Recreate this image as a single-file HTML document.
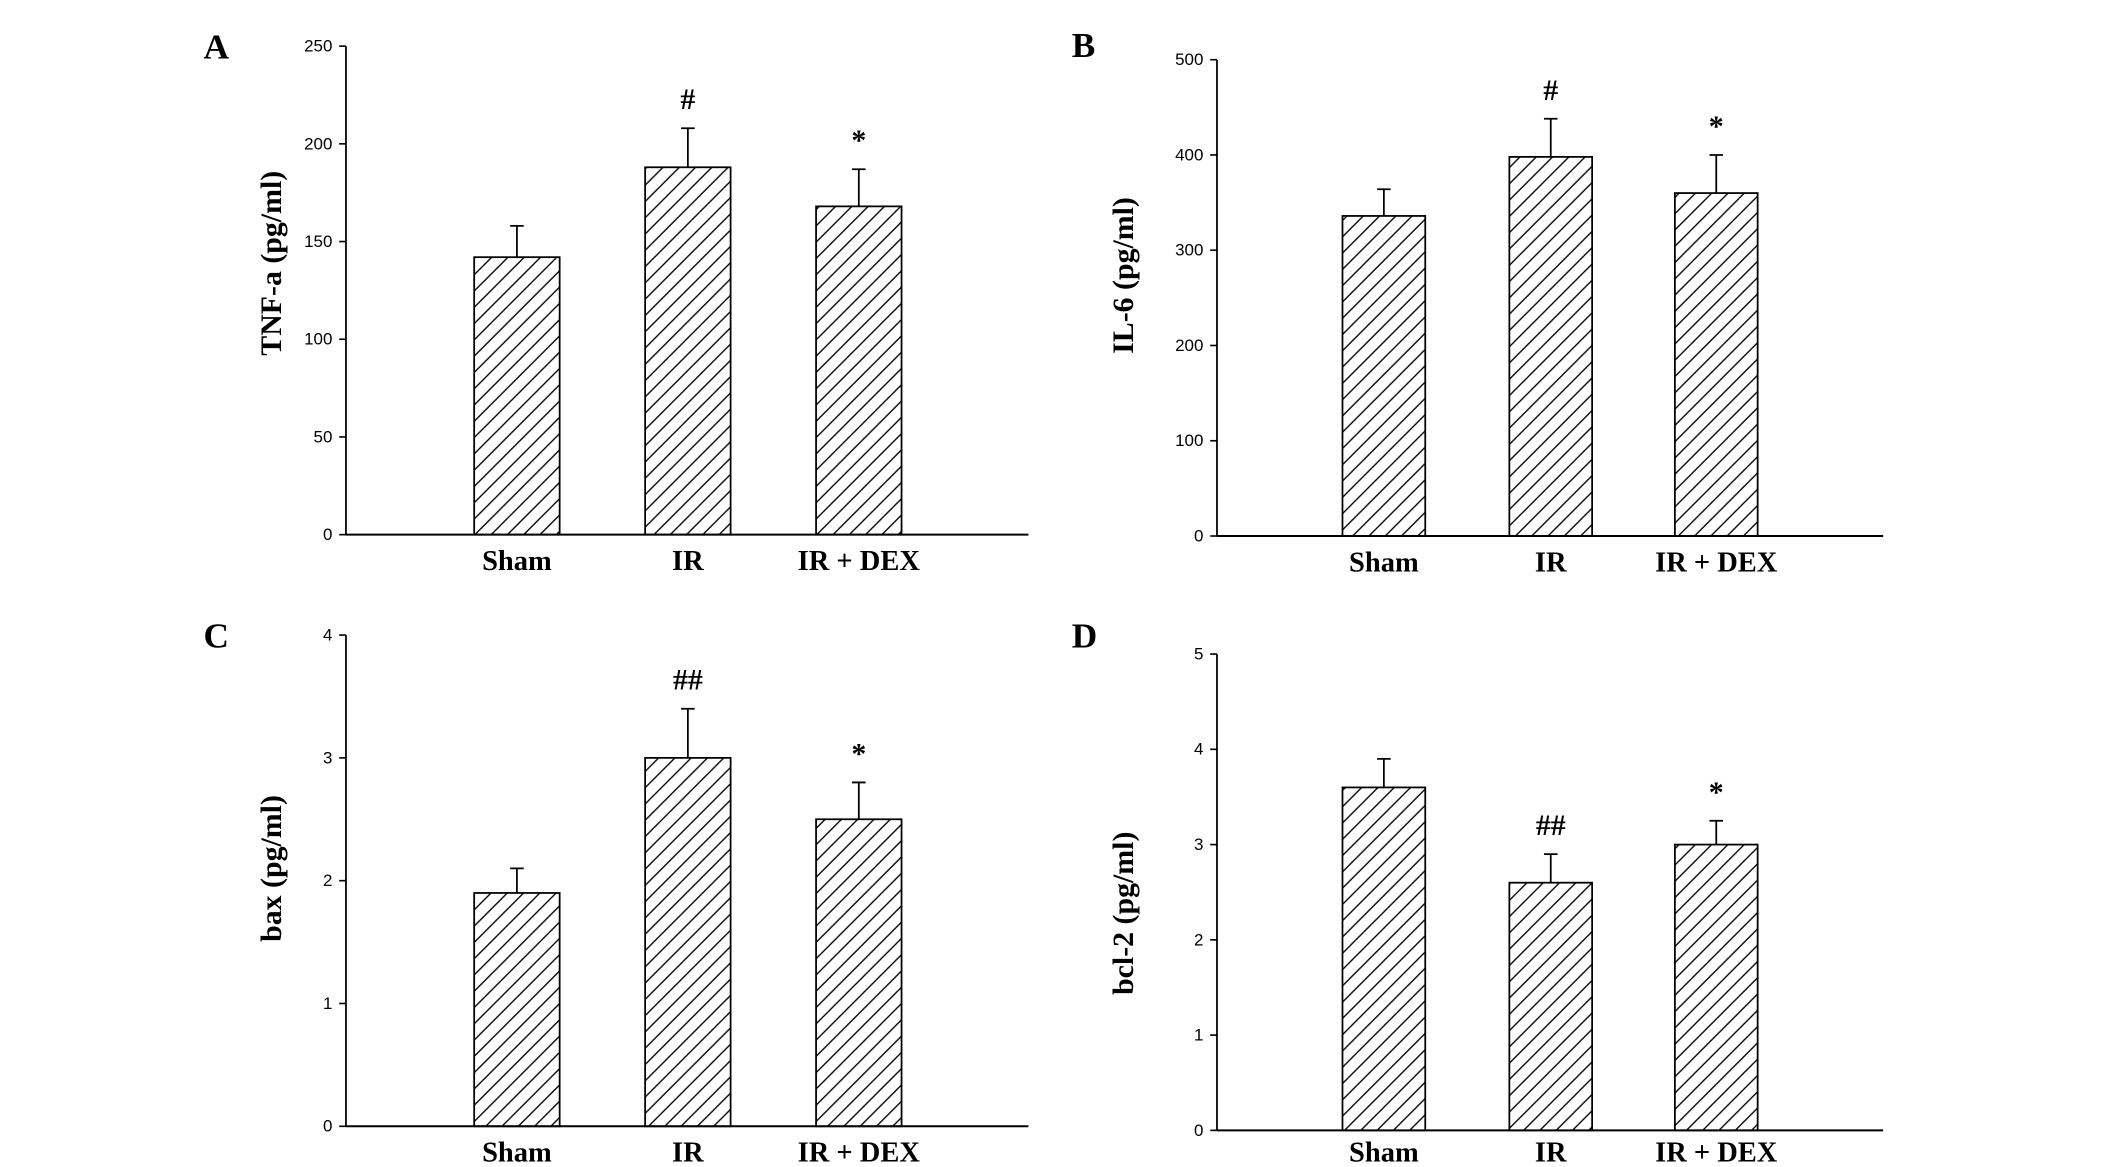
<!DOCTYPE html>
<html><head><meta charset="utf-8"><style>
html,body{margin:0;padding:0;background:#fff;}
svg{display:block;}
.tick{font-family:"Liberation Sans",Arial,sans-serif;font-size:12.5px;fill:#000;}
.cat{font-family:"Liberation Serif",serif;font-weight:bold;font-size:21px;fill:#000;}
.yt{font-family:"Liberation Serif",serif;font-weight:bold;font-size:22px;fill:#000;}
.pl{font-family:"Liberation Serif",serif;font-weight:bold;font-size:26px;fill:#000;}
.sig{font-family:"Liberation Serif",serif;font-weight:bold;font-size:22px;fill:#000;}
</style></head><body>
<svg id="fig" width="2126" height="1167" viewBox="0 0 1567 860" preserveAspectRatio="none" xmlns="http://www.w3.org/2000/svg">
<defs>
<pattern id="hatch" patternUnits="userSpaceOnUse" width="12" height="12">
<path d="M-3,3 L3,-3 M0,12 L12,0 M9,15 L15,9" stroke="#000" stroke-width="1"/>
</pattern>
</defs>
</svg>
<script>
const categories = ["Sham", "IR", "IR + DEX"];
const tnfValues = [142, 188, 168];
const tnfErrors = [16, 20, 19];
const tnfSig = ["", "#", "*"];
const tnfTicks = [0, 50, 100, 150, 200, 250];
const il6Values = [336, 398, 360];
const il6Errors = [28, 40, 40];
const il6Sig = ["", "#", "*"];
const il6Ticks = [0, 100, 200, 300, 400, 500];
const baxValues = [1.9, 3.0, 2.5];
const baxErrors = [0.2, 0.4, 0.3];
const baxSig = ["", "##", "*"];
const baxTicks = [0, 1, 2, 3, 4];
const bclValues = [3.6, 2.6, 3.0];
const bclErrors = [0.3, 0.3, 0.25];
const bclSig = ["", "##", "*"];
const bclTicks = [0, 1, 2, 3, 4, 5];

const svg = document.getElementById('fig');
const NS = "http://www.w3.org/2000/svg";
function mk(tag, attrs, parent){const e=document.createElementNS(NS,tag);for(const k in attrs)e.setAttribute(k,attrs[k]);(parent||svg).appendChild(e);return e;}

const panels = [
 {id:"a",letter:"A",lx:150,ly:43,x0:255,x1:758,yTop:34,yBot:394,max:250,title:"TNF-a (pg/ml)",tx:207,ty:194,centers:[381,507,633],bw:63,catY:420,vals:tnfValues,errs:tnfErrors,sig:tnfSig,ticks:tnfTicks},
 {id:"b",letter:"B",lx:790,ly:42,x0:897,x1:1388,yTop:44,yBot:395,max:500,title:"IL-6 (pg/ml)",tx:835,ty:203,centers:[1020,1143,1265],bw:61,catY:421,vals:il6Values,errs:il6Errors,sig:il6Sig,ticks:il6Ticks},
 {id:"c",letter:"C",lx:150,ly:477,x0:255,x1:758,yTop:468,yBot:830,max:4,title:"bax (pg/ml)",tx:207,ty:640,centers:[381,507,633],bw:63,catY:856,vals:baxValues,errs:baxErrors,sig:baxSig,ticks:baxTicks},
 {id:"d",letter:"D",lx:790,ly:477,x0:897,x1:1388,yTop:482,yBot:833,max:5,title:"bcl-2 (pg/ml)",tx:835,ty:673,centers:[1020,1143,1265],bw:61,catY:856,vals:bclValues,errs:bclErrors,sig:bclSig,ticks:bclTicks}
];

panels.forEach(p=>{
  const g = mk('g',{});
  
  
  const y = v => p.yBot - v/p.max*(p.yBot-p.yTop);
  const lab = mk('text',{x:p.lx,y:p.ly,class:'pl'},g); lab.textContent=p.letter;
  
  
  const ya = mk('line',{x1:p.x0,y1:p.yTop,x2:p.x0,y2:p.yBot,stroke:'#000','stroke-width':1.3},g);
  
  
  const xa = mk('line',{x1:p.x0,y1:p.yBot,x2:p.x1,y2:p.yBot,stroke:'#000','stroke-width':1.5},g);
  
  
  p.ticks.forEach(t=>{
    const tl = mk('line',{x1:p.x0-5,y1:y(t),x2:p.x0,y2:y(t),stroke:'#000','stroke-width':1.2},g);
    
    
    const tt = mk('text',{x:p.x0-10,y:y(t)+4,class:'tick','text-anchor':'end'},g);
    tt.textContent=t;
    
    
  });
  const yt = mk('text',{x:p.tx,y:p.ty,class:'yt','text-anchor':'middle',transform:`rotate(-90 ${p.tx} ${p.ty})`},g);
  yt.textContent=p.title;
  
  
  categories.forEach((c,i)=>{
    const cx=p.centers[i], v=p.vals[i], e=p.errs[i];
    const er = mk('path',{d:`M${cx},${y(v)} V${y(v+e)} M${cx-5},${y(v+e)} H${cx+5}`,stroke:'#000','stroke-width':1.3,fill:'none'},g);
    
    
    const b = mk('rect',{x:cx-p.bw/2,y:y(v),width:p.bw,height:p.yBot-y(v),fill:'url(#hatch)',stroke:'#000','stroke-width':1.3},g);
    
    
    const ct = mk('text',{x:cx,y:p.catY,class:'cat','text-anchor':'middle'},g);
    ct.textContent=c;
    
    
    if(p.sig[i]){
      const s = mk('text',{x:cx,y:y(v+e)-14,class:'sig','text-anchor':'middle'},g);
      s.textContent=p.sig[i];
      
      
    }
  });
});
</script>
</body></html>
